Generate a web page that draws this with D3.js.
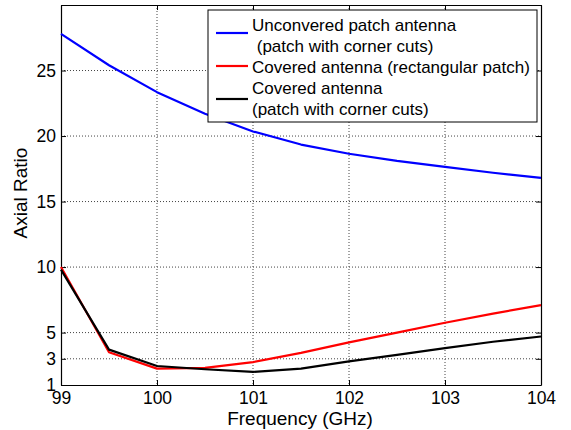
<!DOCTYPE html>
<html>
<head>
<meta charset="utf-8">
<script src="https://cdn.jsdelivr.net/npm/d3@7"></script>
<style>
  body { margin: 0; background: #fff; }
  svg { font-family: "Liberation Sans", Arial, sans-serif; }
</style>
</head>
<body>
<svg width="571" height="430"></svg>
<script>

// data (0.5 GHz steps)
var freq = [99, 99.5, 100, 100.5, 101, 101.5, 102, 102.5, 103, 103.5, 104];
var uncovered = [27.8, 25.4, 23.35, 21.7, 20.35, 19.35, 18.65, 18.1, 17.65, 17.2, 16.8];
var coveredRect = [10, 3.5, 2.25, 2.3, 2.75, 3.45, 4.25, 5.0, 5.75, 6.45, 7.1];
var coveredCuts = [9.8, 3.7, 2.45, 2.2, 2.0, 2.25, 2.8, 3.3, 3.82, 4.3, 4.7];

var xTicks = [99, 100, 101, 102, 103, 104];
var yTicks = [1, 3, 5, 10, 15, 20, 25];

var seriesNames = ["Unconvered patch antenna", "Covered antenna (rectangular patch)", "Covered antenna"];
var seriesColors = ["#0000ff", "#ff0000", "#000000"];

var plotL = 61, plotT = 5, plotR = 541, plotB = 385;

var svg = d3.select('svg');

var scaleX = d3.scaleLinear().domain([99, 104]).range([plotL, plotR]);
var scaleY = d3.scaleLinear().domain([1, 30]).range([plotB, plotT]);

// dotted grid
var grid = svg.append('g');
grid.selectAll('.gx')
    .data(xTicks.slice(1, -1))
    .enter()
    .append('line')
    .attr('x1', function(d){ return scaleX(d); })
    .attr('x2', function(d){ return scaleX(d); })
    .attr('y1', plotT)
    .attr('y2', plotB);
grid.selectAll('.gy')
    .data(yTicks.slice(1))
    .enter()
    .append('line')
    .attr('x1', plotL)
    .attr('x2', plotR)
    .attr('y1', function(d){ return scaleY(d); })
    .attr('y2', function(d){ return scaleY(d); });
grid.selectAll('line')
    .attr('stroke', '#444')
    .attr('stroke-width', 1)
    .attr('stroke-dasharray', '1,2');

// axes, ticks inward on all four sides
svg.append('g')
    .attr('transform', 'translate(0,' + plotB + ')')
    .call(d3.axisBottom(scaleX).tickValues(xTicks).tickFormat(d3.format('d'))
        .tickSizeInner(-5).tickSizeOuter(0).tickPadding(7))
    .attr('class', 'ax');

svg.append('g')
    .attr('transform', 'translate(0,' + plotT + ')')
    .call(d3.axisTop(scaleX).tickValues(xTicks).tickFormat('')
        .tickSizeInner(-5).tickSizeOuter(0))
    .attr('class', 'ax');

svg.append('g')
    .attr('transform', 'translate(' + plotL + ',0)')
    .call(d3.axisLeft(scaleY).tickValues(yTicks)
        .tickSizeInner(-5).tickSizeOuter(0).tickPadding(5))
    .attr('class', 'ax');

svg.append('g')
    .attr('transform', 'translate(' + plotR + ',0)')
    .call(d3.axisRight(scaleY).tickValues(yTicks).tickFormat('')
        .tickSizeInner(-5).tickSizeOuter(0))
    .attr('class', 'ax');

svg.selectAll('.ax text')
    .attr('font-size', 17.5)
    .attr('fill', '#000')
    .style('font-family', '"Liberation Sans", Arial, sans-serif');
svg.selectAll('.ax path').attr('stroke', '#000').attr('stroke-width', 1.2);
svg.selectAll('.ax line').attr('stroke', '#000');

// series lines
var line = d3.line()
    .x(function(d, i){ return scaleX(freq[i]); })
    .y(function(d){ return scaleY(d); });

[uncovered, coveredRect, coveredCuts].forEach(function(s, i){
    svg.append('path')
        .datum(s)
        .attr('d', line)
        .attr('fill', 'none')
        .attr('stroke', seriesColors[i])
        .attr('stroke-width', 2.2)
        .attr('stroke-linejoin', 'round');
});

// axis labels
svg.append('text')
    .text('Frequency (GHz)')
    .attr('x', 300)
    .attr('y', 425)
    .attr('font-size', 19)
    .style('text-anchor', 'middle');

svg.append('text')
    .text('Axial Ratio')
    .attr('transform', 'translate(27,193) rotate(-90)')
    .attr('font-size', 19)
    .style('text-anchor', 'middle');

// legend
var legend = svg.append('g');
legend.append('rect')
    .attr('x', 208)
    .attr('y', 10)
    .attr('width', 329)
    .attr('height', 112)
    .attr('fill', '#fff')
    .attr('stroke', '#000')
    .attr('stroke-width', 1);

var legendLineY = [33, 66, 99];
legendLineY.forEach(function(y, i){
    legend.append('line')
        .attr('x1', 216).attr('x2', 248)
        .attr('y1', y).attr('y2', y)
        .attr('stroke', seriesColors[i])
        .attr('stroke-width', 2.2);
});

var legendRows = [
    [seriesNames[0], 252, 31],
    [' (patch with corner cuts)', 252, 51.5],
    [seriesNames[1], 252, 72.5],
    [seriesNames[2], 252, 94],
    ['(patch with corner cuts)', 252, 115]
];
legendRows.forEach(function(r){
    legend.append('text')
        .text(r[0])
        .attr('x', r[1])
        .attr('y', r[2])
        .attr('font-size', 17)
        .attr('xml:space', 'preserve')
        .style('white-space', 'pre');
});

</script>
</body>
</html>
